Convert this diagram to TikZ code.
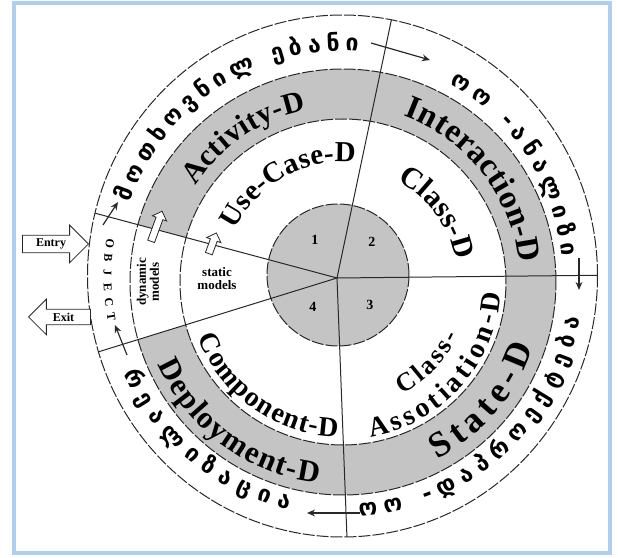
\documentclass[tikz,border=0pt]{standalone}
\usepackage{fontspec}
\setmainfont{Liberation Serif}
\newfontfamily\geofont{DejaVu Sans}
\usetikzlibrary{decorations.text,shapes.arrows,arrows.meta}
\definecolor{bandgray}{RGB}{196,196,196}
\definecolor{frameblue}{RGB}{176,207,240}
\definecolor{inkgray}{RGB}{40,40,40}
\newcommand{\geotext}{\geofont\bfseries\fontsize{11.5}{11.5}\selectfont}
\newcommand{\umltext}[1]{\bfseries\fontsize{#1}{#1}\selectfont}

\begin{document}
\begin{tikzpicture}[x=0.5pt, y=0.5pt,
    ring/.style={draw=inkgray, line width=0.5pt, dash pattern=on 6pt off 1pt},
    spoke/.style={draw=inkgray, line width=0.5pt},
    flow/.style={-{Stealth[length=4pt,width=3.4pt]}, line width=0.6pt, inkgray},
    arctext/.style={decorate, decoration={text along path, text align={fit to path}, text={#1}}},
    blockarrow/.style={single arrow, draw=inkgray, fill=white, line width=0.4pt, single arrow head extend=5pt, inner sep=1.6pt, font=\umltext{6}},
    hollowarrow/.style={single arrow, draw=inkgray, fill=white, line width=0.4pt, single arrow head extend=2pt, inner sep=1.6pt, rotate=70},
    modeltext/.style={font=\umltext{6.5}, align=center, inner sep=0pt}]
  \useasboundingbox (0,0) rectangle (618,558);
  % Frame
  \draw[frameblue, line width=2pt] (14,555) rectangle (610,5);

  % Centres
  \coordinate (E) at (342.5,282); % outer ring
  \coordinate (O) at (343,276);   % middle rings
  \coordinate (H) at (338,283);   % hub disc
  \coordinate (C) at (337,280);   % spokes meet

  % Gray band, open between the two left spokes
  \fill[bandgray, even odd rule] (O) circle[radius=213] (O) circle[radius=163];
  \begin{scope}
    \clip (C) -- +(165:330) -- +(197.2:330) -- cycle;
    \fill[white] (O) circle[radius=214];
  \end{scope}

  % Rings
  \draw[ring] (E) ellipse[x radius=255, y radius=261];
  \draw[ring] (O) circle[radius=213];
  \draw[ring] (O) circle[radius=163];
  \filldraw[ring, fill=bandgray] (H) circle[radius=71];

  % Spokes
  \begin{scope}
    \clip (E) ellipse[x radius=255, y radius=261];
    \foreach \a in {78.1,0.6,-87.8,165,197.2}
      \draw[spoke] (C) -- +(\a:330);
  \end{scope}

  % Outer ring: phases
  \begin{scope}[shift={(E)}]
    \path[arctext={|\geotext|მოთხოვნილ ებანი}] (161:225) arc[start angle=161, end angle=86, radius=225];
    \path[arctext={|\geotext|ოო -ანალიზი}] (61:220) arc[start angle=61, end angle=5, radius=220];
    \path[arctext={|\geotext|ოო -დაპროექტება}] (-86:241) arc[start angle=-86, end angle=-10, radius=241];
    \path[arctext={|\geotext|რეალიზაცია}] (204:240) arc[start angle=204, end angle=257, radius=240];
    % OBJECT
    \foreach \ch [count=\i from 0] in {O,B,J,E,C,T}
      \node[font=\umltext{6}, rotate=262+3.6*\i, inner sep=0pt] (obj\i) at (172+3.6*\i:235) {\ch};
  \end{scope}

  \begin{scope}[shift={(O)}]
    % Gray band
    \path[arctext={|\umltext{15}|Activity-D}] (147:176) arc[start angle=147, end angle=102, radius=176];
    \path[arctext={|\umltext{16.5}|Interaction-D}] (70:177) arc[start angle=70, end angle=6, radius=177];
    \path[arctext={|\umltext{18}|State-D}] (-62:201) arc[start angle=-62, end angle=-19, radius=201];
    \path[arctext={|\umltext{15.5}|Deployment-D}] (204:203) arc[start angle=204, end angle=263, radius=203];
    % White ring
    \path[arctext={|\umltext{14.5}|Use-Case-D}] (154:120) arc[start angle=154, end angle=84, radius=120];
    \path[arctext={|\umltext{15}|Class-D}] (62:115) arc[start angle=62, end angle=11, radius=115];
    \path[arctext={|\umltext{13}|Class-}] (-62:127) arc[start angle=-62, end angle=-25, radius=127];
    \path[arctext={|\umltext{14}|Assotiation-D}] (-80:158) arc[start angle=-80, end angle=-4, radius=158];
    \path[arctext={|\umltext{14}|Component-D}] (201:155) arc[start angle=201, end angle=268, radius=155];
  \end{scope}

  % Hub numbers
  \node[font=\umltext{7}] (n1) at (315,318) {1};
  \node[font=\umltext{7}] (n2) at (372,316) {2};
  \node[font=\umltext{7}] (n3) at (370,253) {3};
  \node[font=\umltext{7}] (n4) at (313,251) {4};

  % Models
  \node[modeltext] (static) at (217,279) {static\\models};
  \node[modeltext, rotate=90] (dynamic) at (148,276) {dynamic\\models};
  \node[hollowarrow, minimum height=16pt] (up1) at (156,330) {};
  \node[hollowarrow, minimum height=11pt] (up2) at (212,313) {};

  % Entry and exit
  \node[blockarrow, anchor=tip, minimum height=33pt] (entry) at (89,314) {Entry};
  \node[blockarrow, shape border rotate=180, anchor=tip, minimum height=31pt] (exit) at (28,241) {Exit};

  % Flow arrows
  \foreach \s/\e in {{103,333}/{118,356}, {371,515}/{430,498}, {579,300}/{579,268}, {360,45}/{307,45}, {127,203}/{115,233}}
    \draw[flow] (\s) -- (\e);
\end{tikzpicture}
\end{document}
